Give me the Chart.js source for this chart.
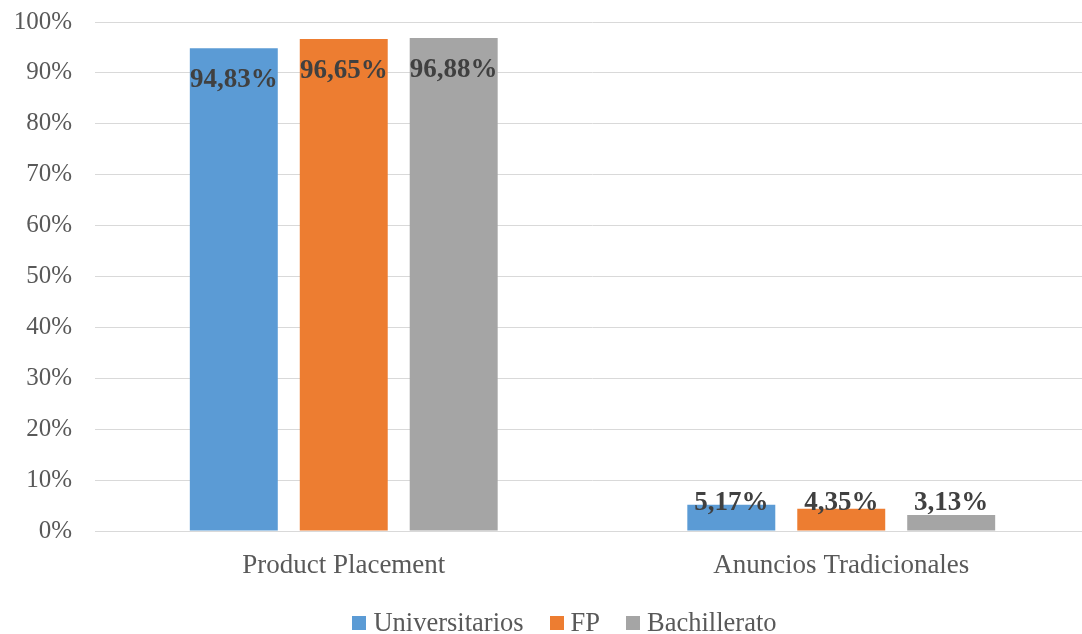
<!DOCTYPE html>
<html>
<head>
<meta charset="utf-8">
<script src="https://cdn.jsdelivr.net/npm/chart.js@4/dist/chart.umd.min.js"></script>
<style>
  html, body { margin: 0; padding: 0; background: #fff; }
  #wrap { position: relative; width: 1082px; height: 634px; overflow: hidden; }
  #chart { position: absolute; left: 0; top: -16px; }
  #legend {
    position: absolute; left: 0; width: 1129px; top: 607px;
    display: flex; justify-content: center; align-items: center;
    font-family: "Liberation Serif", "Times New Roman", serif;
    font-size: 26.5px; color: #595959;
  }
  #legend .item { display: flex; align-items: center; margin: 0 13px; }
  #legend .box { width: 14px; height: 14px; margin-right: 7px; }
</style>
</head>
<body>
<div id="wrap">
  <canvas id="chart" width="1090" height="650"></canvas>
  <div id="legend"></div>
</div>
<script>
// Chart data
var categories = ['Product Placement', 'Anuncios Tradicionales'];
var seriesNames = ['Universitarios', 'FP', 'Bachillerato'];
var universitarios = [94.83, 5.17];
var fp = [96.65, 4.35];
var bachillerato = [96.88, 3.13];
var seriesColors = ['#5B9BD5', '#ED7D31', '#A5A5A5'];

var FONT = '"Liberation Serif", "Times New Roman", serif';

// Value labels near the top of each bar, kept above the axis for short bars
var barLabels = {
    id: 'barLabels',
    afterDatasetsDraw: function(chart) {
        var ctx = chart.ctx;
        var base = chart.scales.y.getPixelForValue(0);
        ctx.save();
        ctx.font = 'bold 27px ' + FONT;
        ctx.fillStyle = '#404040';
        ctx.textAlign = 'center';
        ctx.textBaseline = 'middle';
        chart.data.datasets.forEach(function(ds, i) {
            chart.getDatasetMeta(i).data.forEach(function(bar, j) {
                var y = Math.min(bar.y + 32, base - 28);
                ctx.fillText(ds.data[j].toFixed(2).replace('.', ',') + '%', bar.x, y);
            });
        });
        ctx.restore();
    }
};

var datasets = [universitarios, fp, bachillerato].map(function(values, i) {
    return {
        label: seriesNames[i],
        data: values,
        backgroundColor: seriesColors[i],
        categoryPercentage: 0.663,
        barPercentage: 0.8
    };
});

new Chart(document.getElementById('chart'), {
    type: 'bar',
    data: { labels: categories, datasets: datasets },
    options: {
        responsive: false,
        animation: false,
        layout: { padding: { top: 6, right: 0, left: 0, bottom: 0 } },
        plugins: {
            legend: { display: false },
            tooltip: { enabled: false }
        },
        scales: {
            x: {
                grid: { display: false, drawTicks: false },
                border: { color: '#D9D9D9' },
                ticks: { color: '#595959', font: { family: FONT, size: 27 }, padding: 19 },
                afterFit: function(scale) { scale.height = 103; }
            },
            y: {
                min: 0,
                max: 100,
                ticks: {
                    stepSize: 10,
                    color: '#595959',
                    font: { family: FONT, size: 25 },
                    padding: 23,
                    callback: function(v) { return v + '%'; }
                },
                grid: { color: '#D9D9D9', drawTicks: false },
                border: { display: false },
                afterFit: function(scale) { scale.width = 95; }
            }
        }
    },
    plugins: [barLabels]
});

// Legend
var legend = document.getElementById('legend');
seriesNames.forEach(function(name, i) {
    var item = document.createElement('div');
    item.className = 'item';
    var box = document.createElement('span');
    box.className = 'box';
    box.style.background = seriesColors[i];
    var text = document.createElement('span');
    text.textContent = name;
    item.appendChild(box);
    item.appendChild(text);
    legend.appendChild(item);
});
</script>
</body>
</html>
